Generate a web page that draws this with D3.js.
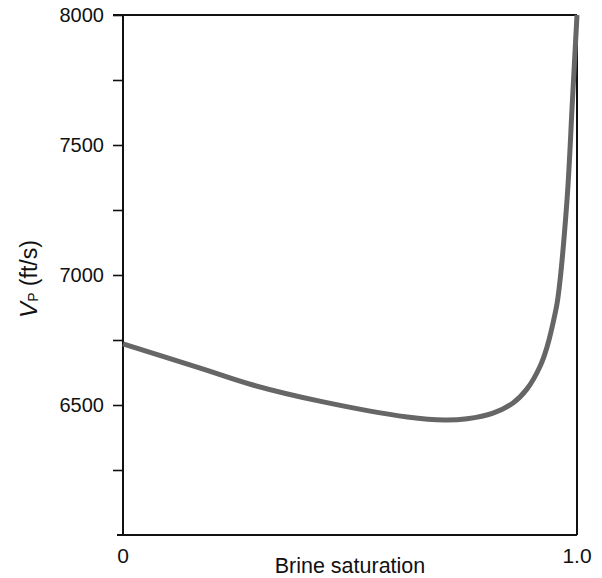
<!DOCTYPE html>
<html>
<head>
<meta charset="utf-8">
<script src="https://cdn.jsdelivr.net/npm/d3@7/dist/d3.min.js"></script>
<style>
  html, body { margin: 0; padding: 0; background: #fff; }
  svg { display: block; font-family: "Liberation Sans", Arial, sans-serif; }
</style>
</head>
<body>
<svg id="chart" width="602" height="578"></svg>
<script>
// Brine saturation (fraction) and P-wave velocity (ft/s)
const brineSaturation = [0, 0.170, 0.286, 0.441, 0.626, 0.709, 0.758, 0.815, 0.859, 0.890, 0.919, 0.934, 0.952, 0.958, 0.978, 0.990, 1.0];
const vpValues        = [6735, 6642, 6577, 6512, 6454, 6442, 6447, 6469, 6508, 6562, 6650, 6723, 6854, 6912, 7288, 7673, 8000];

const yTickValues = [6250, 6500, 6750, 7000, 7250, 7500, 7750, 8000];
const yTickLabels = ["", "6500", "", "7000", "", "7500", "", "8000"];
const xTickValues = [0, 1];
const xTickLabels = ["0", "1.0"];

const svg = d3.select("#chart");
const margin = { left: 123, right: 25, top: 15, bottom: 43 };
const W = 602, H = 578;

const x = d3.scaleLinear().domain([0, 1]).range([margin.left, W - margin.right]);
const y = d3.scaleLinear().domain([6000, 8000]).range([H - margin.bottom, margin.top]);

// left axis with outward ticks
const yAxis = d3.axisLeft(y)
  .tickValues(yTickValues)
  .tickSize(10)
  .tickPadding(9)
  .tickFormat((d, i) => yTickLabels[i]);

const gy = svg.append("g")
  .attr("transform", `translate(${x(0)},0)`)
  .call(yAxis);
gy.select(".domain").remove();
gy.selectAll(".tick line").attr("stroke", "#111").attr("stroke-width", 1.6);
gy.selectAll(".tick text")
  .attr("font-size", 20)
  .attr("font-family", "'Liberation Sans', Arial, sans-serif")
  .attr("fill", "#111");

// frame
const frame = svg.append("g").attr("stroke", "#111").attr("stroke-width", 2).attr("fill", "none");
frame.append("line").attr("x1", x(0)).attr("x2", x(0)).attr("y1", y(8000)).attr("y2", y(6000));
frame.append("line").attr("x1", x(0) - 10).attr("x2", x(1)).attr("y1", y(8000)).attr("y2", y(8000));
frame.append("line").attr("x1", x(1)).attr("x2", x(1)).attr("y1", y(8000)).attr("y2", y(6000));
frame.append("line").attr("x1", x(0) - 6).attr("x2", x(1)).attr("y1", y(6000)).attr("y2", y(6000));

// x tick labels
svg.append("g").selectAll("text")
  .data(xTickValues)
  .join("text")
  .attr("x", d => x(d))
  .attr("y", y(6000) + 28)
  .attr("text-anchor", "middle")
  .attr("font-size", 21)
  .attr("fill", "#111")
  .text((d, i) => xTickLabels[i]);

// axis titles
svg.append("text")
  .attr("x", (x(0) + x(1)) / 2)
  .attr("y", y(6000) + 38)
  .attr("text-anchor", "middle")
  .attr("font-size", 21.5)
  .attr("fill", "#111")
  .text("Brine saturation");

const yt = svg.append("text")
  .attr("transform", `translate(37,279) rotate(-90)`)
  .attr("text-anchor", "middle")
  .attr("font-size", 23)
  .attr("fill", "#111");
yt.append("tspan").attr("font-style", "italic").attr("font-size", 24).text("V");
yt.append("tspan").attr("font-size", 14).attr("dy", 1).text("P");
yt.append("tspan").attr("dy", -1).text(" (ft/s)");

// velocity curve
const data = brineSaturation.map((s, i) => ({ s, v: vpValues[i] }));
const line = d3.line()
  .x(d => x(d.s))
  .y(d => y(d.v))
  .curve(d3.curveCatmullRom.alpha(0.5));

svg.append("path")
  .datum(data)
  .attr("d", line)
  .attr("fill", "none")
  .attr("stroke", "#666")
  .attr("stroke-width", 5)
  .attr("stroke-linejoin", "round");
</script>
</body>
</html>
